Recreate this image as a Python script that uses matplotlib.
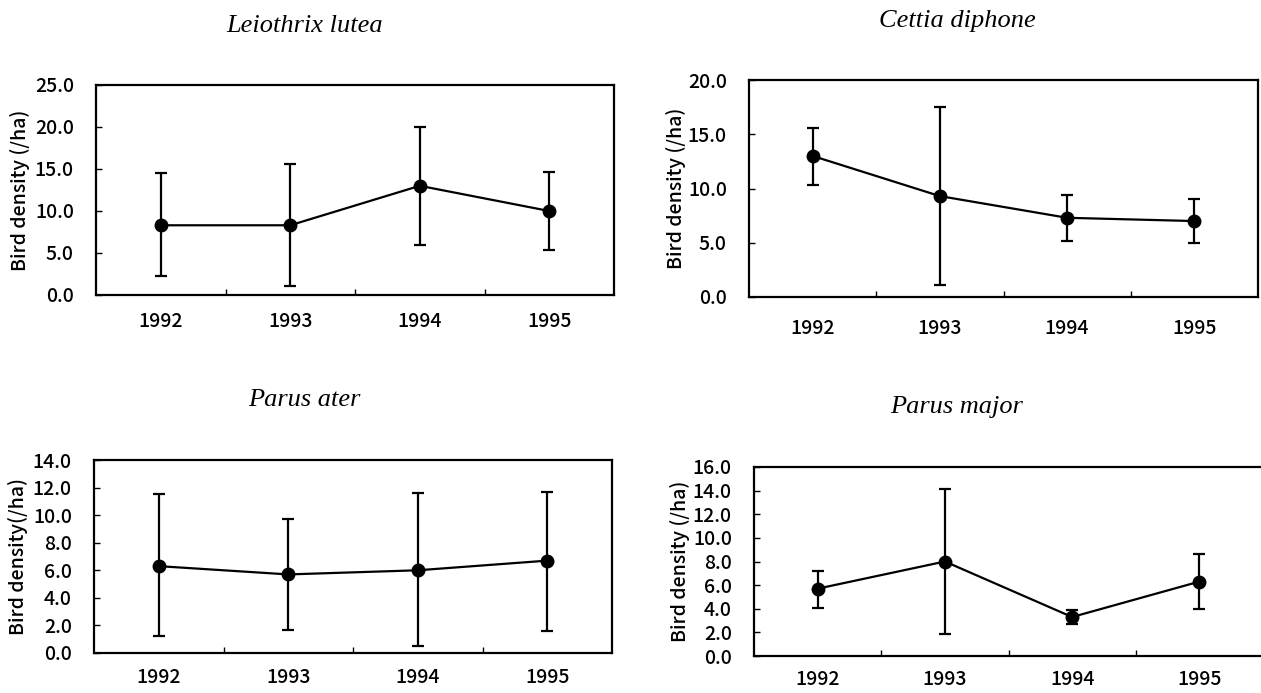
import matplotlib.pyplot as plt
from matplotlib.ticker import FormatStrFormatter, MultipleLocator

# Survey years (x categories)
years = ["1992", "1993", "1994", "1995"]

# Bird density (/ha): mean with upper / lower ends of the error bars
leiothrix_mean = [8.3, 8.3, 13.0, 10.0]
leiothrix_upper = [14.5, 15.6, 20.0, 14.6]
leiothrix_lower = [2.3, 1.1, 6.0, 5.4]

cettia_mean = [13.0, 9.3, 7.3, 7.0]
cettia_upper = [15.6, 17.5, 9.4, 9.0]
cettia_lower = [10.3, 1.1, 5.2, 5.0]

ater_mean = [6.3, 5.7, 6.0, 6.7]
ater_upper = [11.5, 9.7, 11.6, 11.7]
ater_lower = [1.2, 1.7, 0.5, 1.6]

major_mean = [5.7, 8.0, 3.3, 6.3]
major_upper = [7.2, 14.1, 3.9, 8.6]
major_lower = [4.1, 1.9, 2.7, 4.0]

W, H = 1261, 693

# (title, mean, upper, lower, ymax, ystep, ylabel)
panels = [
    ("Leiothrix lutea", leiothrix_mean, leiothrix_upper, leiothrix_lower, 25, 5, "Bird density (/ha)"),
    ("Cettia diphone", cettia_mean, cettia_upper, cettia_lower, 20, 5, "Bird density (/ha)"),
    ("Parus ater", ater_mean, ater_upper, ater_lower, 14, 2, "Bird density(/ha)"),
    ("Parus major", major_mean, major_upper, major_lower, 16, 2, "Bird density (/ha)"),
]

# layout in pixels: axes box (left, top, right, bottom), title centre, ylabel x, xtick pad (pt)
layout = [
    ((96, 85, 614, 295), (305, 26), 20, 12),
    ((749, 80, 1258, 297), (957, 21), 676, 15.5),
    ((94, 460, 612, 653), (304, 400), 18, 10.5),
    ((754, 467, 1263, 656), (957, 407), 680, 10),
]

tick_font = ["Noto Sans CJK JP", "DejaVu Sans"]

fig = plt.figure(figsize=(W / 100, H / 100), dpi=100)

for (title, mean, upper, lower, ymax, ystep, ylabel), (box, tpos, ylab_x, xpad) in zip(panels, layout):
    left, top, right, bottom = box
    ax = fig.add_axes([left / W, 1 - bottom / H, (right - left) / W, (bottom - top) / H])

    x = list(range(len(years)))
    yerr = [[m - lo for m, lo in zip(mean, lower)], [hi - m for m, hi in zip(mean, upper)]]
    ax.errorbar(x, mean, yerr=yerr, color="black", lw=1.6, marker="o", markersize=9,
                elinewidth=1.6, capsize=4.5, capthick=1.6)

    ax.set_xlim(-0.5, len(years) - 0.5)
    ax.set_ylim(0, ymax)

    # category labels centred, tick marks on the category boundaries
    ax.set_xticks(x)
    ax.set_xticklabels(years)
    ax.set_xticks([i + 0.5 for i in x[:-1]], minor=True)
    ax.tick_params(axis="x", which="major", length=0, pad=xpad)
    ax.tick_params(axis="x", which="minor", direction="in", length=4.5, width=1)

    ax.yaxis.set_major_locator(MultipleLocator(ystep))
    ax.yaxis.set_major_formatter(FormatStrFormatter("%.1f"))
    ax.tick_params(axis="y", direction="in", length=4, width=1, pad=16)

    for lab in ax.get_xticklabels() + ax.get_yticklabels():
        lab.set_family(tick_font)
        lab.set_fontsize(14)
        lab.set_fontweight("medium")

    for sp in ax.spines.values():
        sp.set_linewidth(1.6)

    ax.set_ylabel(ylabel, family=tick_font, fontsize=14, fontweight="medium", va="center")
    ax.yaxis.set_label_coords((ylab_x - left) / (right - left), 0.5)

    fig.text(tpos[0] / W, 1 - tpos[1] / H, title, ha="center", va="center",
             family="Liberation Serif", style="italic", fontsize=19)

fig.savefig("out.png", dpi=100)
